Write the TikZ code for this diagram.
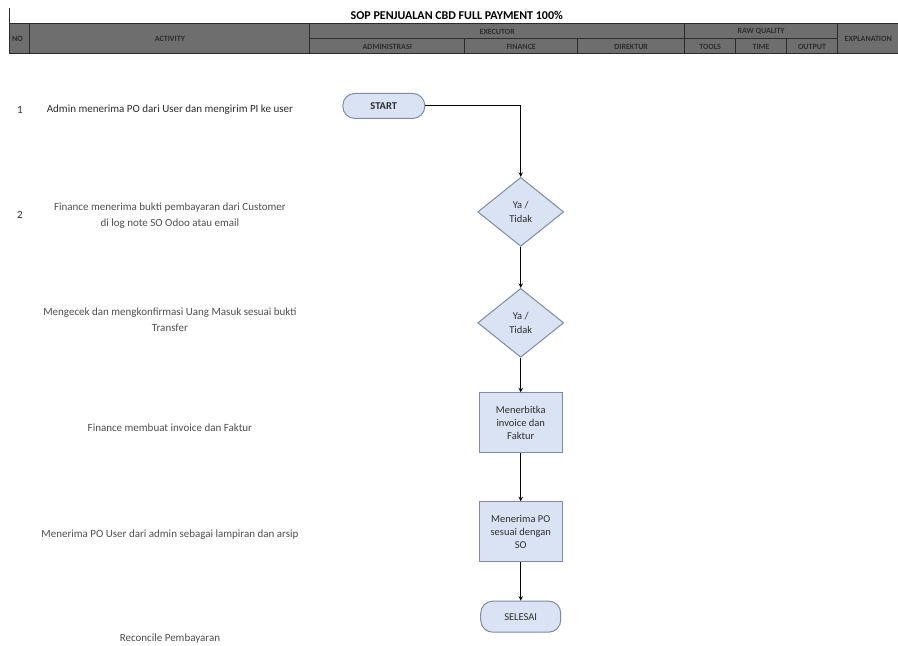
\documentclass[tikz,border=0pt]{standalone}
\usepackage{fontspec}
\setmainfont{Carlito}
\usetikzlibrary{shapes.geometric,positioning}
\definecolor{hdrgray}{HTML}{6E6E6E}
\definecolor{hdrline}{HTML}{2B2B2B}
\definecolor{hdrtext}{HTML}{2E2E2E}
\definecolor{flowfill}{HTML}{DAE3F3}
\definecolor{flowline}{HTML}{7F8CA3}
\definecolor{steptext}{HTML}{505050}
\begin{document}
\begin{tikzpicture}[
    x=1pt, y=-1pt,
    hdr/.style={font=\fontsize{8}{9}\selectfont\bfseries, text=hdrtext, inner sep=0pt},
    activity/.style={font=\fontsize{11}{16}\selectfont, text=steptext, align=center, inner sep=0pt},
    terminal/.style={rectangle, rounded corners=12pt, draw=flowline, fill=flowfill, line width=1pt, minimum width=82pt, minimum height=25pt, font=\fontsize{10.5}{12}\selectfont\bfseries, text=hdrtext},
    decision/.style={diamond, draw=flowline, fill=flowfill, line width=1pt, minimum width=86pt, minimum height=69pt, inner sep=1pt, align=center, font=\fontsize{10.5}{14}\selectfont, text=hdrtext},
    process/.style={rectangle, draw=flowline, fill=flowfill, line width=1pt, minimum width=83pt, minimum height=60pt, align=center, font=\fontsize{10.5}{13}\selectfont, text=hdrtext},
    arrow/.style={->, >=stealth, line width=1pt}
]
    \path[fill=white] (0,0) rectangle (898,646);

    % Header
    \node[font=\fontsize{12}{14}\selectfont\bfseries, text=black] (title) at (457,15) {SOP PENJUALAN CBD FULL PAYMENT 100\%};
    \fill[hdrgray] (10,24) rectangle (898,54);
    \draw[hdrline, line width=1pt] (10,8) -- (10,54) -- (898,54);
    \draw[hdrline, line width=1pt] (10,24) -- (898,24);
    \draw[hdrline, line width=1pt] (30,24) -- (30,54) (310,24) -- (310,54) (685,24) -- (685,54) (838,24) -- (838,54);
    \draw[hdrline, line width=1pt] (310,39) -- (838,39);
    \draw[hdrline, line width=1pt] (465,39) -- (465,54) (578,39) -- (578,54) (736,39) -- (736,54) (787,39) -- (787,54);

    \node[hdr, anchor=west] (hno) at (12,39) {NO};
    \node[hdr] (hact) at (170,39) {ACTIVITY};
    \node[hdr] (hexec) at (497.5,31.5) {EXECUTOR};
    \node[hdr] (hadm) at (387.5,46.5) {ADMINISTRASI};
    \node[hdr] (hfin) at (521.5,46.5) {FINANCE};
    \node[hdr] (hdir) at (631.5,46.5) {DIREKTUR};
    \node[hdr] (hraw) at (761.5,31.5) {RAW QUALITY};
    \node[hdr] (htools) at (710.5,46.5) {TOOLS};
    \node[hdr] (htime) at (761.5,46.5) {TIME};
    \node[hdr] (hout) at (812.5,46.5) {OUTPUT};
    \node[hdr, anchor=west] (hexpl) at (845,39) {EXPLANATION};

    % Activities
    \node[activity, text=hdrtext] (no1) at (20,110) {1};
    \node[activity, text=hdrtext] (act1) at (170,110) {Admin menerima PO dari User dan mengirim PI ke user};
    \node[activity, text=hdrtext] (no2) at (20,215) {2};
    \node[activity] (act2) at (170,216) {Finance menerima bukti pembayaran dari Customer\\di log note SO Odoo atau email};
    \node[activity] (act3) at (170,320) {Mengecek dan mengkonfirmasi Uang Masuk sesuai bukti\\Transfer};
    \node[activity] (act4) at (170,428) {Finance membuat invoice dan Faktur};
    \node[activity] (act5) at (170,535) {Menerima PO User dari admin sebagai lampiran dan arsip};
    \node[activity] (act6) at (170,639) {Reconcile Pembayaran};

    % Flow
    \node[terminal] (start) at (384,106) {START};
    \node[decision] (check1) at (521,212) {Ya /\\Tidak};
    \node[decision] (check2) at (521,323) {Ya /\\Tidak};
    \node[process] (invoice) at (521,423) {Menerbitka\\invoice dan\\Faktur};
    \node[process] (terima) at (521,532) {Menerima PO\\sesuai dengan\\SO};
    \node[terminal, minimum width=80pt, minimum height=31pt, font=\fontsize{10.5}{12}\selectfont] (selesai) at (521,617) {SELESAI};

    % Arrows
    \draw[arrow] (start.east) -| (check1.north);
    \draw[arrow] (check1) -- (check2);
    \draw[arrow] (check2) -- (invoice);
    \draw[arrow] (invoice) -- (terima);
    \draw[arrow] (terima) -- (selesai);
\end{tikzpicture}
\end{document}
